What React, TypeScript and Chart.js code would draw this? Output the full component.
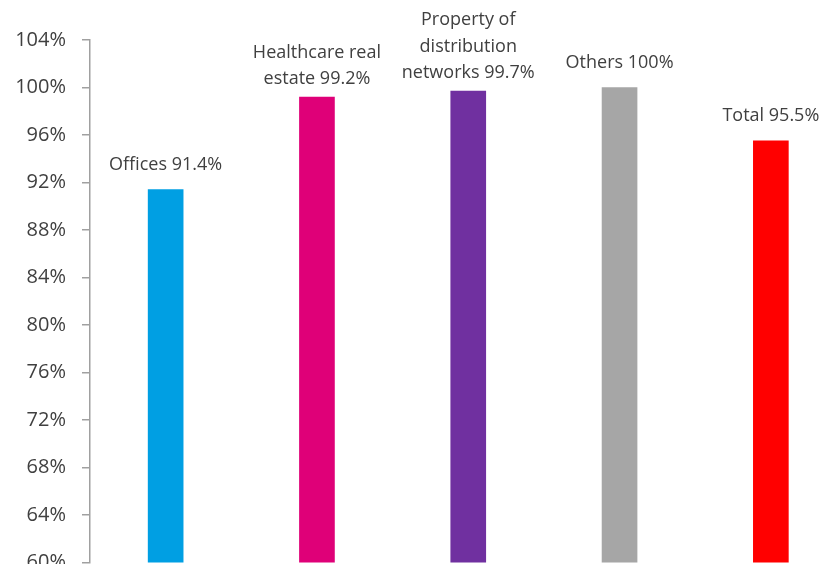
import React, { useEffect, useRef } from "react";
import { Chart, registerables } from "chart.js";

Chart.register(...registerables);

const categoryLines: string[][] = [
  ["Offices"],
  ["Healthcare real", "estate"],
  ["Property of", "distribution", "networks"],
  ["Others"],
  ["Total"],
];
const occupancyRates: number[] = [91.4, 99.2, 99.7, 100, 95.5];
const barColors: string[] = ["#009fe3", "#df0078", "#7030a0", "#a6a6a6", "#ff0000"];
const yMin = 60;
const yMax = 104;
const yStep = 4;

const fmt = (v: number) => (Number.isInteger(v) ? `${v}%` : `${v.toFixed(1)}%`);

const labelPlugin = {
  id: "barLabels",
  afterDatasetsDraw(chart: any) {
    const ctx = chart.ctx;
    const meta = chart.getDatasetMeta(0);
    ctx.save();
    ctx.font = "18px 'Open Sans'";
    ctx.fillStyle = "#404040";
    ctx.textAlign = "center";
    ctx.textBaseline = "middle";
    const lineH = 26.5;
    meta.data.forEach((bar: any, i: number) => {
      const lines = categoryLines[i].slice();
      const value = fmt(occupancyRates[i]);
      lines[lines.length - 1] = lines[lines.length - 1] + " " + value;
      const n = lines.length;
      const gap = n > 1 ? 18 : 25;
      lines.forEach((ln, j) => {
        const y = bar.y - gap - (n - 1 - j) * lineH;
        ctx.fillText(ln, bar.x, y);
      });
    });
    ctx.restore();
  },
};

export default function App() {
  const ref = useRef<HTMLCanvasElement | null>(null);
  useEffect(() => {
    if (!ref.current) return;
    const chart = new Chart(ref.current, {
      type: "bar",
      data: {
        labels: categoryLines.map((l) => l.join(" ")),
        datasets: [
          {
            data: occupancyRates,
            backgroundColor: barColors,
            barThickness: 35,
          },
        ],
      },
      options: {
        animation: false,
        responsive: false,
        layout: { padding: { top: 40, bottom: 37.5, left: 0, right: 3.5 } },
        plugins: {
          legend: { display: false },
          tooltip: { enabled: false },
        },
        scales: {
          x: { display: false },
          y: {
            min: yMin,
            max: yMax,
            afterFit: (scale: any) => {
              scale.width = 90;
            },
            ticks: {
              stepSize: yStep,
              padding: 16,
              color: "#404040",
              font: { family: "'Open Sans'", size: 20 },
              callback: (v: any) => `${v}%`,
            },
            grid: {
              display: true,
              drawOnChartArea: false,
              drawTicks: true,
              tickLength: 8,
              color: "#a0a0a0",
              lineWidth: 1.5,
            },
            border: { display: true, color: "#a0a0a0", width: 1.5 },
          },
        },
      },
      plugins: [labelPlugin],
    });
    return () => chart.destroy();
  }, []);
  return (
    <div style={{ position: "fixed", left: 0, top: 0, width: 823, height: 564, overflow: "hidden", background: "#fff" }}>
      <canvas ref={ref} width={850} height={600} style={{ position: "absolute", left: 0, top: 0 }} />
    </div>
  );
}
